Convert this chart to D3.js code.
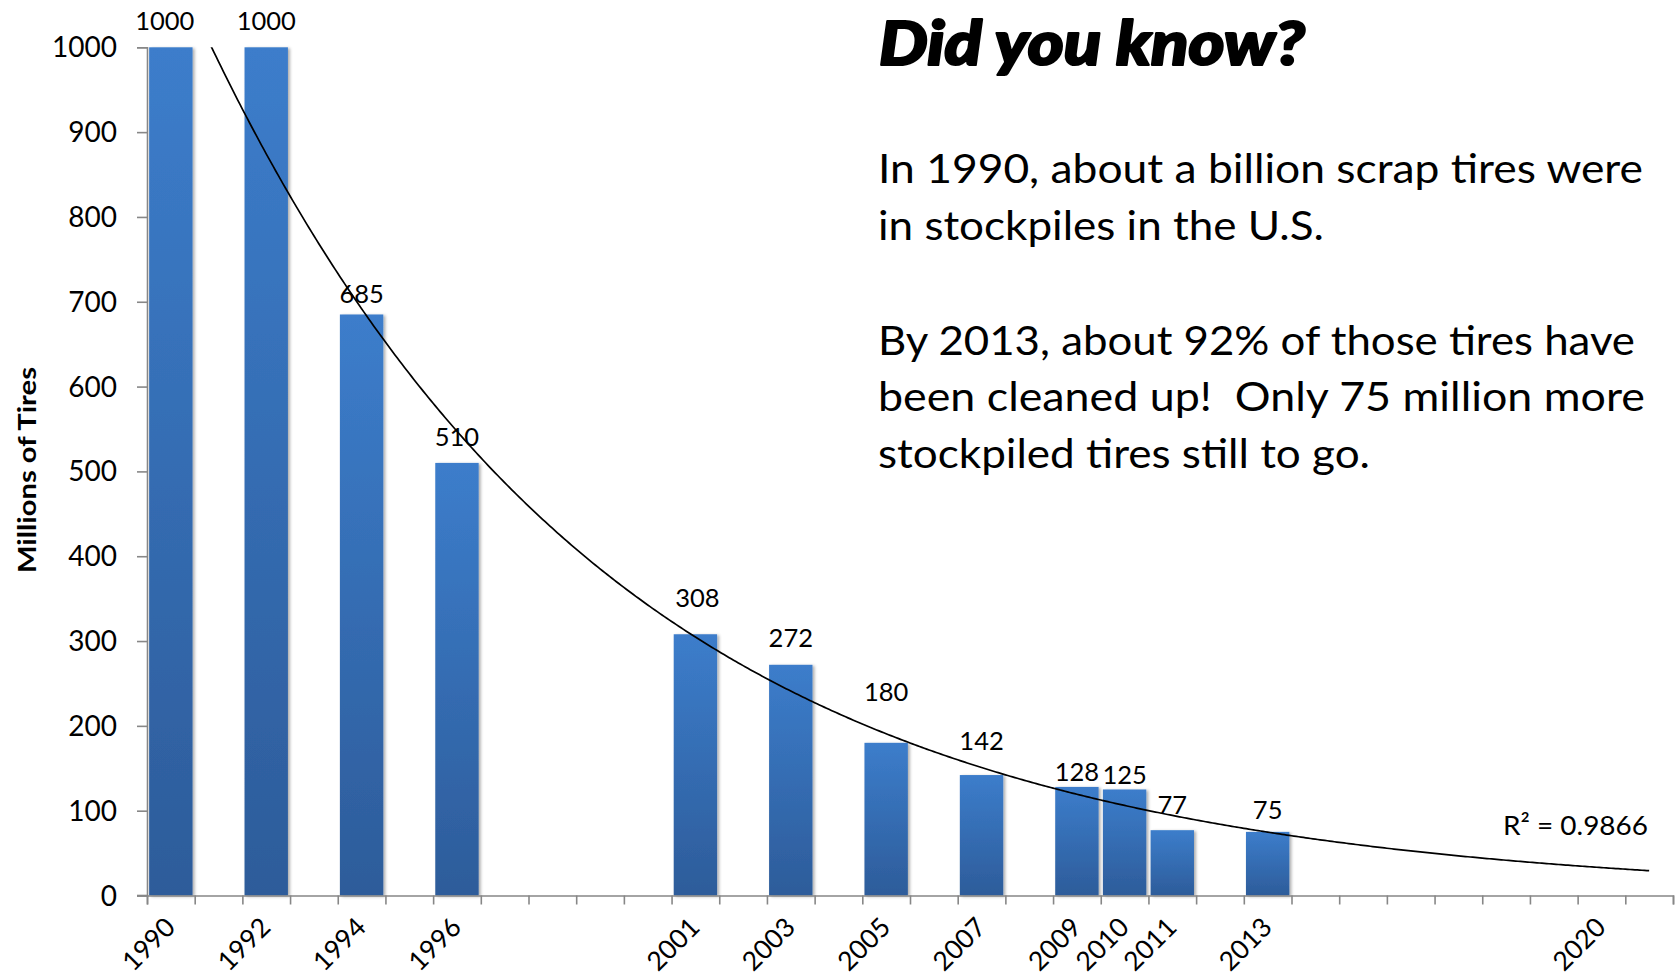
<!DOCTYPE html>
<html>
<head>
<meta charset="utf-8">
<script src="https://cdn.jsdelivr.net/npm/d3@7/dist/d3.min.js"></script>
<style>
  html, body { margin: 0; padding: 0; background: #ffffff; }
  svg { display: block; }
  text { font-family: Lato, "Open Sans", "DejaVu Sans", sans-serif; fill: #000; }
</style>
</head>
<body>
<svg id="chart" width="1678" height="977"></svg>
<script>
// ---------------- data ----------------
const years  = [1990, 1992, 1994, 1996, 2001, 2003, 2005, 2007, 2009, 2010, 2011, 2013];
const tires  = [1000, 1000, 685, 510, 308, 272, 180, 142, 128, 125, 77, 75];
const axisYears = d3.range(1990, 2022);           // one slot per year, 1990 … 2021
const xTickLabels = [1990, 1992, 1994, 1996, 2001, 2003, 2005, 2007, 2009, 2010, 2011, 2013, 2020];
const yTicks = [0, 100, 200, 300, 400, 500, 600, 700, 800, 900, 1000];
const yTitle = "Millions of Tires";
const r2Label = "R² = 0.9866";
const headline = "Did you know?";
const bodyLines = [
  "In 1990, about a billion scrap tires were",
  "in stockpiles in the U.S.",
  "",
  "By 2013, about 92% of those tires have",
  "been cleaned up!  Only 75 million more",
  "stockpiled tires still to go."
];
// label lift above bar tops and sideways nudge (px) – layout only
const labelLift  = [17, 17, 11, 17, 27, 18, 42, 25, 6, 5, 16, 13];
const labelShift = [-6, 0, 0, 0, 2, 0, 0, 0, 0, 0, 0, 0];

// ---------------- layout ----------------
const plot = { left: 147, right: 1673, top: 47.3, bottom: 895.5 };
const svg = d3.select("#chart");

const xLin = d3.scaleLinear().domain([1990, 2022]).range([plot.left, plot.right]);
const xBand = d3.scaleBand().domain(axisYears).range([plot.left, plot.right])
  .paddingInner(0.09).paddingOuter(0.045);
const y = d3.scaleLinear().domain([0, 1000]).range([plot.bottom, plot.top]);

// defs
const defs = svg.append("defs");
const grad = defs.append("linearGradient").attr("id", "barGrad")
  .attr("x1", 0).attr("y1", 0).attr("x2", 0).attr("y2", 1);
grad.append("stop").attr("offset", "0%").attr("stop-color", "#3c7dcb");
grad.append("stop").attr("offset", "100%").attr("stop-color", "#2d5c9a");
const f = defs.append("filter").attr("id", "shadow").attr("x", "-20%").attr("y", "-5%").attr("width", "140%").attr("height", "110%");
f.append("feDropShadow").attr("dx", 2).attr("dy", 1).attr("stdDeviation", 1.6)
  .attr("flood-color", "#000").attr("flood-opacity", 0.32);
defs.append("clipPath").attr("id", "plotClip").append("rect")
  .attr("x", plot.left).attr("y", plot.top)
  .attr("width", plot.right - plot.left).attr("height", plot.bottom - plot.top);

// bars
svg.append("g").selectAll("rect").data(years).join("rect")
  .attr("x", (d) => xBand(d))
  .attr("width", xBand.bandwidth())
  .attr("y", (d, i) => y(tires[i]))
  .attr("height", (d, i) => y(0) - y(tires[i]))
  .attr("fill", "url(#barGrad)")
  .attr("filter", "url(#shadow)");

// axes
const axisColor = "#878787";
const yAxis = svg.append("g").attr("transform", `translate(${plot.left},0)`)
  .call(d3.axisLeft(y).tickValues(yTicks).tickSize(10).tickPadding(20).tickFormat(d3.format("d")));
const xAxis = svg.append("g").attr("transform", `translate(0,${plot.bottom})`)
  .call(d3.axisBottom(xLin).tickValues(d3.range(1990, 2023)).tickSize(9).tickFormat(""));
[yAxis, xAxis].forEach(g => {
  g.selectAll("path, line").attr("stroke", axisColor).attr("stroke-width", 1.6);
});
yAxis.selectAll("text").attr("font-size", 28).attr("font-family", "Lato, sans-serif").attr("fill", "#000")
  .attr("dy", "0.34em");
// extend x axis line left to meet the 0 tick
svg.append("line").attr("x1", plot.left - 10).attr("x2", plot.left)
  .attr("y1", plot.bottom).attr("y2", plot.bottom).attr("stroke", axisColor).attr("stroke-width", 1.6);

// x tick labels, rotated
svg.append("g").selectAll("text").data(xTickLabels).join("text")
  .attr("transform", d => `translate(${xLin(d + 0.5) + 6},${929}) rotate(-45)`)
  .attr("text-anchor", "end")
  .attr("font-size", 26.5)
  .text(d => d);

// y title
svg.append("text")
  .attr("transform", `translate(36,470) rotate(-90)`)
  .attr("text-anchor", "middle")
  .attr("font-size", 25).attr("font-weight", 700)
  .attr("textLength", 206).attr("lengthAdjust", "spacingAndGlyphs")
  .text(yTitle);

// exponential trendline, least squares on ln(y)
const lnV = tires.map(Math.log);
const mx = d3.mean(years), my = d3.mean(lnV);
const b = d3.sum(years, (t, i) => (t - mx) * (lnV[i] - my)) / d3.sum(years, t => (t - mx) ** 2);
const a = Math.exp(my - b * mx);
const trendX = d3.range(1990, 2021.001, 0.05);
svg.append("path")
  .attr("clip-path", "url(#plotClip)")
  .attr("d", d3.line().x(t => xLin(t + 0.5)).y(t => y(a * Math.exp(b * t)))(trendX))
  .attr("fill", "none").attr("stroke", "#000").attr("stroke-width", 1.7);

// data labels
svg.append("g").selectAll("text").data(years).join("text")
  .attr("x", (d, i) => xBand(d) + xBand.bandwidth() / 2 + labelShift[i])
  .attr("y", (d, i) => y(tires[i]) - labelLift[i])
  .attr("text-anchor", "middle")
  .attr("font-size", 25.5)
  .text((d, i) => tires[i]);

// R² label
svg.append("text").attr("x", 1648).attr("y", 835).attr("text-anchor", "end")
  .attr("font-size", 27.5)
  .attr("textLength", 145).attr("lengthAdjust", "spacingAndGlyphs")
  .text(r2Label);

// headline + body text
svg.append("text").attr("x", 879).attr("y", 65)
  .attr("font-size", 60).attr("font-weight", 900).attr("font-style", "italic")
  .attr("stroke", "#000").attr("stroke-width", 2.2).attr("stroke-linejoin", "round")
  .attr("textLength", 426).attr("lengthAdjust", "spacingAndGlyphs")
  .text(headline);

const bodyBase = [183, 239.5, 296, 354.5, 411, 467.5];
const bodyWidth = [765, 446, 0, 757, 767, 492];
svg.append("g").selectAll("text").data(bodyLines).join("text")
  .attr("x", 878)
  .attr("y", (d, i) => bodyBase[i])
  .attr("font-size", 40)
  .attr("textLength", (d, i) => bodyWidth[i] || null)
  .attr("lengthAdjust", "spacingAndGlyphs")
  .style("white-space", "pre")
  .text(d => d);
</script>
</body>
</html>
